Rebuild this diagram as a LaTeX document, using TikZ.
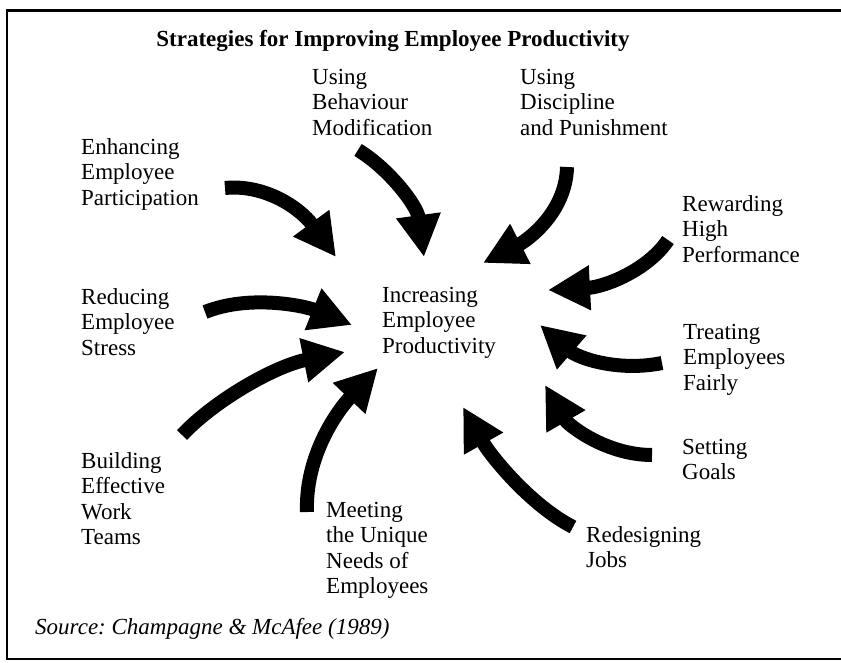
\documentclass[tikz,border=0pt]{standalone}
\usepackage{fontspec}
\setmainfont{Liberation Serif}
\usetikzlibrary{arrows.meta}
\newcommand\mylab[1]{\begin{tabular}[t]{@{}l@{}}#1\end{tabular}}
\frenchspacing
\begin{document}
\begin{tikzpicture}[x=1pt,y=-1pt,
  lab/.style={font=\fontsize{23}{25.6}\selectfont, inner sep=0pt, anchor=base west},
  bigarrow/.style={line width=14pt, -{Triangle[length=42pt,width=42pt]}},
  frameline/.style={line width=#1, black}]
\useasboundingbox (0,0) rectangle (841,662);
% frame
\draw[frameline=3pt] (6,10) -- (841,10);
\draw[frameline=2pt] (7,10) -- (7,660);
\draw[frameline=1.2pt] (7,659) -- (841,659);
% title and source
\node[font=\bfseries\fontsize{23}{26}\selectfont, inner sep=0pt, anchor=base] (title) at (393,46) {Strategies for Improving Employee Productivity};
\node[font=\itshape\fontsize{23}{26}\selectfont, inner sep=0pt, anchor=base west] (source) at (35,634) {Source: Champagne \& McAfee (1989)};
% labels
\node[lab] (enh) at (81,154) {\mylab{Enhancing\\Employee\\Participation}};
\node[lab] (beh) at (312,84) {\mylab{Using\\Behaviour\\Modification}};
\node[lab] (dis) at (520,84) {\mylab{Using\\Discipline\\and Punishment}};
\node[lab] (rew) at (682,211) {\mylab{Rewarding\\High\\Performance}};
\node[lab] (red) at (81,304) {\mylab{Reducing\\Employee\\Stress}};
\node[lab] (inc) at (382,302) {\mylab{Increasing\\Employee\\Productivity}};
\node[lab] (tre) at (683,339) {\mylab{Treating\\Employees\\Fairly}};
\node[lab] (set) at (682,454) {\mylab{Setting\\Goals}};
\node[lab] (bui) at (81,468) {\mylab{Building\\Effective\\Work\\Teams}};
\node[lab] (mee) at (326,517) {\mylab{Meeting\\the Unique\\Needs of\\Employees}};
\node[lab] (rdj) at (586,542) {\mylab{Redesigning\\Jobs}};
% arrow ends
\coordinate (t1) at (225,188);  \coordinate (h1) at (336,257);
\coordinate (t2) at (358,150);  \coordinate (h2) at (424,257);
\coordinate (t3) at (567,167);  \coordinate (h3) at (483,263);
\coordinate (t4) at (668,240);  \coordinate (h4) at (548,290);
\coordinate (t5) at (205,312);  \coordinate (h5) at (352,325);
\coordinate (t6) at (182,435);  \coordinate (h6) at (345,352);
\coordinate (t7) at (307,512);  \coordinate (h7) at (378,368);
\coordinate (t8) at (662,363);  \coordinate (h8) at (540,325);
\coordinate (t9) at (652,455);  \coordinate (h9) at (545,385);
\coordinate (t10) at (573,527); \coordinate (h10) at (463,407);
% arrows
\draw[bigarrow] (t1) .. controls (265,184) and (300,208) .. (h1);
\draw[bigarrow] (t2) .. controls (388,168) and (417,205) .. (h2);
\draw[bigarrow] (t3) .. controls (566,212) and (528,240) .. (h3);
\draw[bigarrow] (t4) .. controls (648,270) and (605,287) .. (h4);
\draw[bigarrow] (t5) .. controls (250,294) and (305,306) .. (h5);
\draw[bigarrow] (t6) .. controls (215,400) and (275,366) .. (h6);
\draw[bigarrow] (t7) .. controls (305,455) and (338,410) .. (h7);
\draw[bigarrow] (t8) .. controls (618,372) and (578,358) .. (h8);
\draw[bigarrow] (t9) .. controls (606,455) and (568,425) .. (h9);
\draw[bigarrow] (t10) .. controls (530,505) and (490,455) .. (h10);
\end{tikzpicture}
\end{document}
